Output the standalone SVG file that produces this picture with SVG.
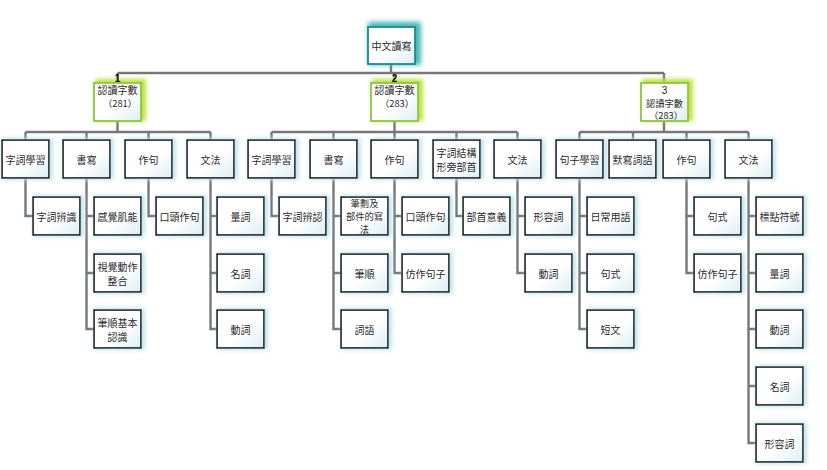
<svg xmlns="http://www.w3.org/2000/svg" width="827" height="470" viewBox="0 0 827 470">
<style>
.n{fill:url(#gf);stroke:#141414;stroke-width:1.6;filter:url(#glow)}
.l1{fill:url(#gf);stroke:#8cc63f;stroke-width:1.8;filter:url(#glowg)}
.rt{fill:url(#gf);stroke:#1a8a8c;stroke-width:1.8;filter:url(#glowt)}
text{font-family:"Noto Sans CJK TC","Noto Sans CJK SC",sans-serif;font-size:10px;fill:#2a2a2a;text-anchor:middle;dominant-baseline:central}
.s{font-size:9.3px}
.num{font-family:"Liberation Sans",Arial,sans-serif;font-weight:bold;font-size:10px;fill:#111}
.d{font-family:"Liberation Sans",Arial,sans-serif;font-size:10px}
#conn path{fill:none;stroke:#777;stroke-width:2.4}
</style>
<defs>
<linearGradient id="gf" x1="0" y1="0" x2="1" y2="1">
<stop offset="0" stop-color="#ffffff"/><stop offset="0.55" stop-color="#ffffff"/><stop offset="1" stop-color="#dcedf3"/>
</linearGradient>
<filter id="glow" x="-30%" y="-30%" width="160%" height="160%">
<feMorphology in="SourceAlpha" operator="dilate" radius="1" result="d"/>
<feOffset in="d" dx="2" dy="0" result="o"/>
<feGaussianBlur in="o" stdDeviation="2" result="b"/>
<feFlood flood-color="#bfe3ee" result="c"/>
<feComposite in="c" in2="b" operator="in" result="s"/>
<feMerge><feMergeNode in="s"/><feMergeNode in="SourceGraphic"/></feMerge>
</filter>
<filter id="glowg" x="-30%" y="-30%" width="160%" height="160%">
<feMorphology in="SourceAlpha" operator="dilate" radius="1" result="d"/>
<feOffset in="d" dx="3" dy="-2" result="o"/>
<feGaussianBlur in="o" stdDeviation="2.2" result="b"/>
<feFlood flood-color="#b9e23a" result="c"/>
<feComposite in="c" in2="b" operator="in" result="s"/>
<feMerge><feMergeNode in="s"/><feMergeNode in="SourceGraphic"/></feMerge>
</filter>
<filter id="glowt" x="-30%" y="-30%" width="160%" height="160%">
<feMorphology in="SourceAlpha" operator="dilate" radius="1.5" result="d"/>
<feOffset in="d" dx="3" dy="-2" result="o"/>
<feGaussianBlur in="o" stdDeviation="2.4" result="b"/>
<feFlood flood-color="#3fb5b5" result="c"/>
<feComposite in="c" in2="b" operator="in" result="s"/>
<feMerge><feMergeNode in="s"/><feMergeNode in="SourceGraphic"/></feMerge>
</filter>
</defs>
<rect width="827" height="470" fill="#ffffff"/>

<g id="conn">
<path d="M391,64V73M117.5,73H664M117.5,73V83M394.5,73V83M664,73V83"/>
<path d="M117.5,121V132M25.5,132H210.5M25.5,132V140M86.5,132V140M148.5,132V140M210.5,132V140"/>
<path d="M25.5,178V216H33"/>
<path d="M86.5,178V329H94M86.5,216H94M86.5,273H94"/>
<path d="M148.5,178V216H156"/>
<path d="M210.5,178V329H217M210.5,216H217M210.5,273H217"/>
<path d="M394.5,121V132M271.5,132H517.5M271.5,132V140M333.5,132V140M394.5,132V140M456.5,132V140M517.5,132V140"/>
<path d="M271.5,178V216H279"/>
<path d="M333.5,178V329H341M333.5,216H341M333.5,273H341"/>
<path d="M394.5,178V273H402M394.5,216H402"/>
<path d="M456.5,178V216H463"/>
<path d="M517.5,178V273H525M517.5,216H525"/>
<path d="M664,121V132M579.5,132H748.5M579.5,132V140M633,132V140M686.5,132V140M748.5,132V140"/>
<path d="M579.5,178V329H587M579.5,216H587M579.5,273H587"/>
<path d="M686.5,178V273H694M686.5,216H694"/>
<path d="M748.5,178V443H756M748.5,216H756M748.5,273H756M748.5,329H756M748.5,386H756"/>
</g>

<g id="root"><rect class="rt" x="368" y="27" width="47" height="37"/><text x="391.5" y="45.5">中文讀寫</text></g>

<g id="l1a"><rect class="l1" x="94" y="83" width="47" height="38"/><text class="num" x="117.5" y="78">1</text><text x="117.5" y="89.5">認讀字數</text><text class="s" x="120" y="103">（281）</text></g>
<g id="l1b"><rect class="l1" x="371" y="83" width="47" height="38"/><text class="num" x="394.5" y="78">2</text><text x="394.5" y="89.5">認讀字數</text><text class="s" x="397" y="103">（283）</text></g>
<g id="l1c"><rect class="l1" x="641" y="83" width="47" height="38"/><text class="d" x="664.5" y="90">3</text><text class="s" x="664.5" y="102.5">認讀字數</text><text class="s" x="666" y="115">（283）</text></g>

<g id="a1"><rect class="n" x="2" y="140" width="47" height="38"/><text x="25.5" y="159">字詞學習</text></g>
<g id="a2"><rect class="n" x="63" y="140" width="47" height="38"/><text x="86.5" y="159">書寫</text></g>
<g id="a3"><rect class="n" x="125" y="140" width="47" height="38"/><text x="148.5" y="159">作句</text></g>
<g id="a4"><rect class="n" x="187" y="140" width="47" height="38"/><text x="210.5" y="159">文法</text></g>
<g id="a1c1"><rect class="n" x="33" y="197" width="47" height="38"/><text x="56.5" y="216">字詞辨識</text></g>
<g id="a2c1"><rect class="n" x="94" y="197" width="47" height="38"/><text x="117.5" y="216">感覺肌能</text></g>
<g id="a2c2"><rect class="n" x="94" y="254" width="47" height="38"/><text x="117.5" y="266.5">視覺動作</text><text x="117.5" y="280">整合</text></g>
<g id="a2c3"><rect class="n" x="94" y="310" width="47" height="38"/><text x="117.5" y="322.5">筆順基本</text><text x="117.5" y="336">認識</text></g>
<g id="a3c1"><rect class="n" x="156" y="197" width="47" height="38"/><text x="179.5" y="216">口頭作句</text></g>
<g id="a4c1"><rect class="n" x="217" y="197" width="47" height="38"/><text x="240.5" y="216">量詞</text></g>
<g id="a4c2"><rect class="n" x="217" y="254" width="47" height="38"/><text x="240.5" y="273">名詞</text></g>
<g id="a4c3"><rect class="n" x="217" y="310" width="47" height="38"/><text x="240.5" y="329">動詞</text></g>

<g id="b1"><rect class="n" x="248" y="140" width="47" height="38"/><text x="271.5" y="159">字詞學習</text></g>
<g id="b2"><rect class="n" x="310" y="140" width="47" height="38"/><text x="333.5" y="159">書寫</text></g>
<g id="b3"><rect class="n" x="371" y="140" width="47" height="38"/><text x="394.5" y="159">作句</text></g>
<g id="b4"><rect class="n" x="433" y="140" width="47" height="38"/><text x="456.5" y="152.5">字詞結構</text><text x="456.5" y="166">形旁部首</text></g>
<g id="b5"><rect class="n" x="494" y="140" width="47" height="38"/><text x="517.5" y="159">文法</text></g>
<g id="b1c1"><rect class="n" x="279" y="197" width="47" height="38"/><text x="302.5" y="216">字詞辨認</text></g>
<g id="b2c1"><rect class="n" x="341" y="197" width="47" height="38"/><text class="s" x="364.5" y="203">筆劃及</text><text class="s" x="364.5" y="216">部件的寫</text><text class="s" x="364.5" y="229">法</text></g>
<g id="b2c2"><rect class="n" x="341" y="254" width="47" height="38"/><text x="364.5" y="273">筆順</text></g>
<g id="b2c3"><rect class="n" x="341" y="310" width="47" height="38"/><text x="364.5" y="329">詞語</text></g>
<g id="b3c1"><rect class="n" x="402" y="197" width="47" height="38"/><text x="425.5" y="216">口頭作句</text></g>
<g id="b3c2"><rect class="n" x="402" y="254" width="47" height="38"/><text x="425.5" y="273">仿作句子</text></g>
<g id="b4c1"><rect class="n" x="463" y="197" width="47" height="38"/><text x="486.5" y="216">部首意義</text></g>
<g id="b5c1"><rect class="n" x="525" y="197" width="47" height="38"/><text x="548.5" y="216">形容詞</text></g>
<g id="b5c2"><rect class="n" x="525" y="254" width="47" height="38"/><text x="548.5" y="273">動詞</text></g>

<g id="c1"><rect class="n" x="556" y="140" width="47" height="38"/><text x="579.5" y="159">句子學習</text></g>
<g id="c2"><rect class="n" x="609" y="140" width="47" height="38"/><text x="632.5" y="159">默寫詞語</text></g>
<g id="c3"><rect class="n" x="663" y="140" width="47" height="38"/><text x="686.5" y="159">作句</text></g>
<g id="c4"><rect class="n" x="725" y="140" width="47" height="38"/><text x="748.5" y="159">文法</text></g>
<g id="c1c1"><rect class="n" x="587" y="197" width="47" height="38"/><text x="610.5" y="216">日常用語</text></g>
<g id="c1c2"><rect class="n" x="587" y="254" width="47" height="38"/><text x="610.5" y="273">句式</text></g>
<g id="c1c3"><rect class="n" x="587" y="310" width="47" height="38"/><text x="610.5" y="329">短文</text></g>
<g id="c3c1"><rect class="n" x="694" y="197" width="47" height="38"/><text x="717.5" y="216">句式</text></g>
<g id="c3c2"><rect class="n" x="694" y="254" width="47" height="38"/><text x="717.5" y="273">仿作句子</text></g>
<g id="c4c1"><rect class="n" x="756" y="197" width="47" height="38"/><text x="779.5" y="216">標點符號</text></g>
<g id="c4c2"><rect class="n" x="756" y="254" width="47" height="38"/><text x="779.5" y="273">量詞</text></g>
<g id="c4c3"><rect class="n" x="756" y="310" width="47" height="38"/><text x="779.5" y="329">動詞</text></g>
<g id="c4c4"><rect class="n" x="756" y="367" width="47" height="38"/><text x="779.5" y="386">名詞</text></g>
<g id="c4c5"><rect class="n" x="756" y="424" width="47" height="38"/><text x="779.5" y="443">形容詞</text></g>
</svg>
